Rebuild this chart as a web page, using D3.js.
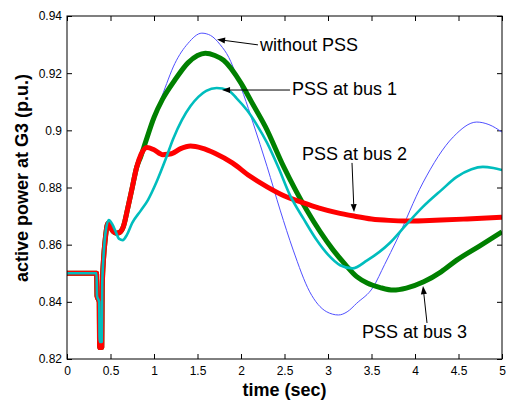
<!DOCTYPE html>
<html>
<head>
<meta charset="utf-8">
<script src="https://cdn.jsdelivr.net/npm/d3@7"></script>
<style>
  html, body { margin: 0; padding: 0; background: #ffffff; }
  svg { display: block; }
  text { font-family: "Liberation Sans", Arial, Helvetica, sans-serif; fill: #000; }
</style>
</head>
<body>
<svg id="chart" width="509" height="403"></svg>
<script>
// ---------- data (time in s, active power in p.u.) ----------
const xTicks = [0, 0.5, 1, 1.5, 2, 2.5, 3, 3.5, 4, 4.5, 5];
const xTickLabels = ["0", "0.5", "1", "1.5", "2", "2.5", "3", "3.5", "4", "4.5", "5"];
const yTicks = [0.82, 0.84, 0.86, 0.88, 0.9, 0.92, 0.94];
const yTickLabels = ["0.82", "0.84", "0.86", "0.88", "0.9", "0.92", "0.94"];

const withoutPss = [
  [0,0.85],[0.34,0.85],[0.345,0.842],[0.37,0.840],[0.375,0.824],[0.40,0.824],[0.405,0.845],
  [0.42,0.855],[0.44,0.862],[0.47,0.8675],[0.52,0.865],[0.57,0.864],[0.60,0.8642],[0.65,0.8665],
  [0.70,0.873],[0.75,0.880],[0.80,0.887],[0.85,0.891],[0.90,0.8956],[1.00,0.9045],[1.09,0.9118],
  [1.24,0.9234],[1.39,0.9304],[1.55,0.934],[1.65,0.9332],[1.76,0.930],[1.86,0.9255],[1.95,0.919],
  [2.03,0.9125],[2.14,0.9025],[2.30,0.8873],[2.45,0.8721],[2.60,0.8581],[2.79,0.8435],[2.98,0.8366],
  [3.12,0.8354],[3.22,0.8365],[3.33,0.8395],[3.52,0.8452],[3.65,0.853],[3.79,0.8616],[4.09,0.8816],
  [4.44,0.8977],[4.71,0.9029],[4.85,0.902],[5.00,0.8994]
];
const pssBus1 = [
  [0,0.85],[0.34,0.85],[0.345,0.842],[0.37,0.840],[0.375,0.826],[0.40,0.826],[0.405,0.846],
  [0.42,0.856],[0.44,0.8635],[0.48,0.8686],[0.52,0.8672],[0.56,0.8645],[0.60,0.862],[0.64,0.8616],
  [0.69,0.8635],[0.75,0.8676],[0.85,0.872],[0.93,0.8756],[1.03,0.882],[1.13,0.8896],[1.22,0.897],
  [1.32,0.9036],[1.42,0.9085],[1.51,0.9117],[1.60,0.9138],[1.72,0.9148],[1.85,0.914],[1.95,0.9112],
  [2.07,0.907],[2.18,0.902],[2.30,0.8956],[2.43,0.887],[2.56,0.8775],[2.72,0.869],[2.87,0.8616],
  [3.00,0.8565],[3.14,0.8528],[3.28,0.8517],[3.45,0.8545],[3.71,0.8606],[3.90,0.867],[4.09,0.8732],
  [4.30,0.879],[4.48,0.8837],[4.65,0.8864],[4.78,0.8872],[4.90,0.8868],[5.00,0.8861]
];
const pssBus2 = [
  [0,0.85],[0.34,0.85],[0.345,0.842],[0.37,0.840],[0.375,0.824],[0.40,0.824],[0.405,0.845],
  [0.42,0.855],[0.44,0.862],[0.47,0.8675],[0.52,0.865],[0.57,0.864],[0.60,0.8642],[0.65,0.8665],
  [0.70,0.873],[0.75,0.880],[0.80,0.887],[0.85,0.8915],[0.92,0.894],[1.00,0.8932],[1.10,0.8915],
  [1.20,0.8918],[1.30,0.8935],[1.42,0.8945],[1.55,0.8938],[1.70,0.892],[1.90,0.8886],[2.10,0.884],
  [2.30,0.8802],[2.50,0.877],[2.70,0.8748],[2.90,0.8728],[3.10,0.8712],[3.30,0.870],[3.50,0.869],
  [3.70,0.8685],[3.90,0.8683],[4.10,0.8684],[4.30,0.8686],[4.60,0.869],[5.00,0.8696]
];
const pssBus3 = [
  [0,0.85],[0.34,0.85],[0.345,0.842],[0.37,0.840],[0.375,0.824],[0.40,0.824],[0.405,0.845],
  [0.42,0.855],[0.44,0.862],[0.47,0.8675],[0.52,0.865],[0.57,0.864],[0.60,0.8642],[0.65,0.8665],
  [0.70,0.873],[0.75,0.880],[0.80,0.887],[0.85,0.891],[0.90,0.8956],[1.00,0.9045],[1.10,0.911],
  [1.24,0.9176],[1.39,0.9236],[1.50,0.9262],[1.59,0.927],[1.70,0.9262],[1.80,0.9245],[2.00,0.9165],
  [2.12,0.910],[2.28,0.9013],[2.49,0.8873],[2.755,0.8721],[3.06,0.8581],[3.20,0.853],[3.33,0.8488],
  [3.45,0.8466],[3.60,0.845],[3.75,0.8441],[3.90,0.8448],[4.10,0.847],[4.30,0.8505],[4.48,0.8546],
  [4.75,0.8597],[5.00,0.8645]
];

const seriesNames = ["without PSS", "PSS at bus 3", "PSS at bus 2", "PSS at bus 1"];
const seriesData = [withoutPss, pssBus3, pssBus2, pssBus1];
const seriesColors = ["#5050ff", "#008000", "#ff0000", "#00bdbd"];
const seriesWidths = [1, 5, 5, 2.6];

// annotation: text anchor (t, v), arrow tail (t, v), arrow tip (t, v)
const annotationLabels = ["without PSS", "PSS at bus 1", "PSS at bus 2", "PSS at bus 3"];
const annotationText = [[2.218, 0.9278], [2.586, 0.9124], [2.701, 0.8896], [3.391, 0.8273]];
const annotationTail = [[2.195, 0.9299], [2.563, 0.9141], [3.276, 0.8886], [4.138, 0.8326]];
const annotationTip = [[1.725, 0.9318], [1.782, 0.9141], [3.299, 0.8714], [4.092, 0.8455]];

// ---------- layout ----------
const W = 509, H = 403;
const margin = { left: 67, top: 16, right: 7, bottom: 44 };
const iw = W - margin.left - margin.right;
const ih = H - margin.top - margin.bottom;

const svg = d3.select("#chart");
svg.append("rect").attr("width", W).attr("height", H).attr("fill", "#fff");
const g = svg.append("g").attr("transform", `translate(${margin.left},${margin.top})`);

const x = d3.scaleLinear().domain([0, 5]).range([0, iw]);
const y = d3.scaleLinear().domain([0.82, 0.94]).range([ih, 0]);

g.append("defs").append("clipPath").attr("id", "clip")
  .append("rect").attr("width", iw).attr("height", ih);

// axes
const axB = g.append("g").attr("transform", `translate(0,${ih})`)
  .call(d3.axisBottom(x).tickValues(xTicks).tickFormat((d, i) => xTickLabels[i])
    .tickSizeInner(-5).tickSizeOuter(0).tickPadding(7.5));
const axL = g.append("g")
  .call(d3.axisLeft(y).tickValues(yTicks).tickFormat((d, i) => yTickLabels[i])
    .tickSizeInner(-5).tickSizeOuter(0).tickPadding(5));
const axT = g.append("g")
  .call(d3.axisTop(x).tickValues(xTicks).tickFormat("").tickSizeInner(-5).tickSizeOuter(0));
const axR = g.append("g").attr("transform", `translate(${iw},0)`)
  .call(d3.axisRight(y).tickValues(yTicks).tickFormat("").tickSizeInner(-5).tickSizeOuter(0));

[axB, axL, axT, axR].forEach(a => {
  a.select(".domain").remove();
  a.selectAll(".tick line").attr("stroke", "#000").attr("stroke-width", 1);
  a.selectAll(".tick text").attr("font-size", 12).attr("fill", "#000")
    .style("font-family", '"Liberation Sans", Arial, sans-serif');
});

// curves
const line = d3.line().x(d => x(d[0])).y(d => y(d[1])).curve(d3.curveMonotoneX);
const curves = g.append("g").attr("clip-path", "url(#clip)");
seriesData.forEach((data, i) => {
  curves.append("path")
    .datum(data)
    .attr("fill", "none")
    .attr("stroke", seriesColors[i])
    .attr("stroke-width", seriesWidths[i])
    .attr("stroke-linejoin", "round")
    .attr("stroke-linecap", "butt")
    .attr("d", line)
    .append("title").text(seriesNames[i]);
});

// frame
g.append("rect").attr("width", iw).attr("height", ih)
  .attr("fill", "none").attr("stroke", "#000").attr("stroke-width", 1);

// annotations
const ann = g.append("g");
annotationLabels.forEach((lab, i) => {
  const x1 = x(annotationTail[i][0]), y1 = y(annotationTail[i][1]);
  const x2 = x(annotationTip[i][0]), y2 = y(annotationTip[i][1]);
  const ang = Math.atan2(y2 - y1, x2 - x1);
  const L = 8, Wd = 3;
  const bx = x2 - L * Math.cos(ang), by = y2 - L * Math.sin(ang);
  ann.append("line").attr("x1", x1).attr("y1", y1).attr("x2", bx).attr("y2", by)
    .attr("stroke", "#000").attr("stroke-width", 1);
  const p = [
    [x2, y2],
    [bx + Wd * Math.sin(ang), by - Wd * Math.cos(ang)],
    [bx - Wd * Math.sin(ang), by + Wd * Math.cos(ang)]
  ];
  ann.append("path").attr("d", "M" + p.map(q => q.join(",")).join("L") + "Z").attr("fill", "#000");
  ann.append("text")
    .attr("x", x(annotationText[i][0])).attr("y", y(annotationText[i][1]))
    .attr("font-size", 18).text(lab);
});

// axis titles
svg.append("text")
  .attr("x", margin.left + iw / 2).attr("y", 396)
  .attr("text-anchor", "middle").attr("font-size", 18).attr("font-weight", "bold")
  .text("time (sec)");
svg.append("text")
  .attr("transform", `translate(28,${178})rotate(-90)`)
  .attr("text-anchor", "middle").attr("font-size", 18).attr("font-weight", "bold")
  .text("active power at G3 (p.u.)");
</script>
</body>
</html>
